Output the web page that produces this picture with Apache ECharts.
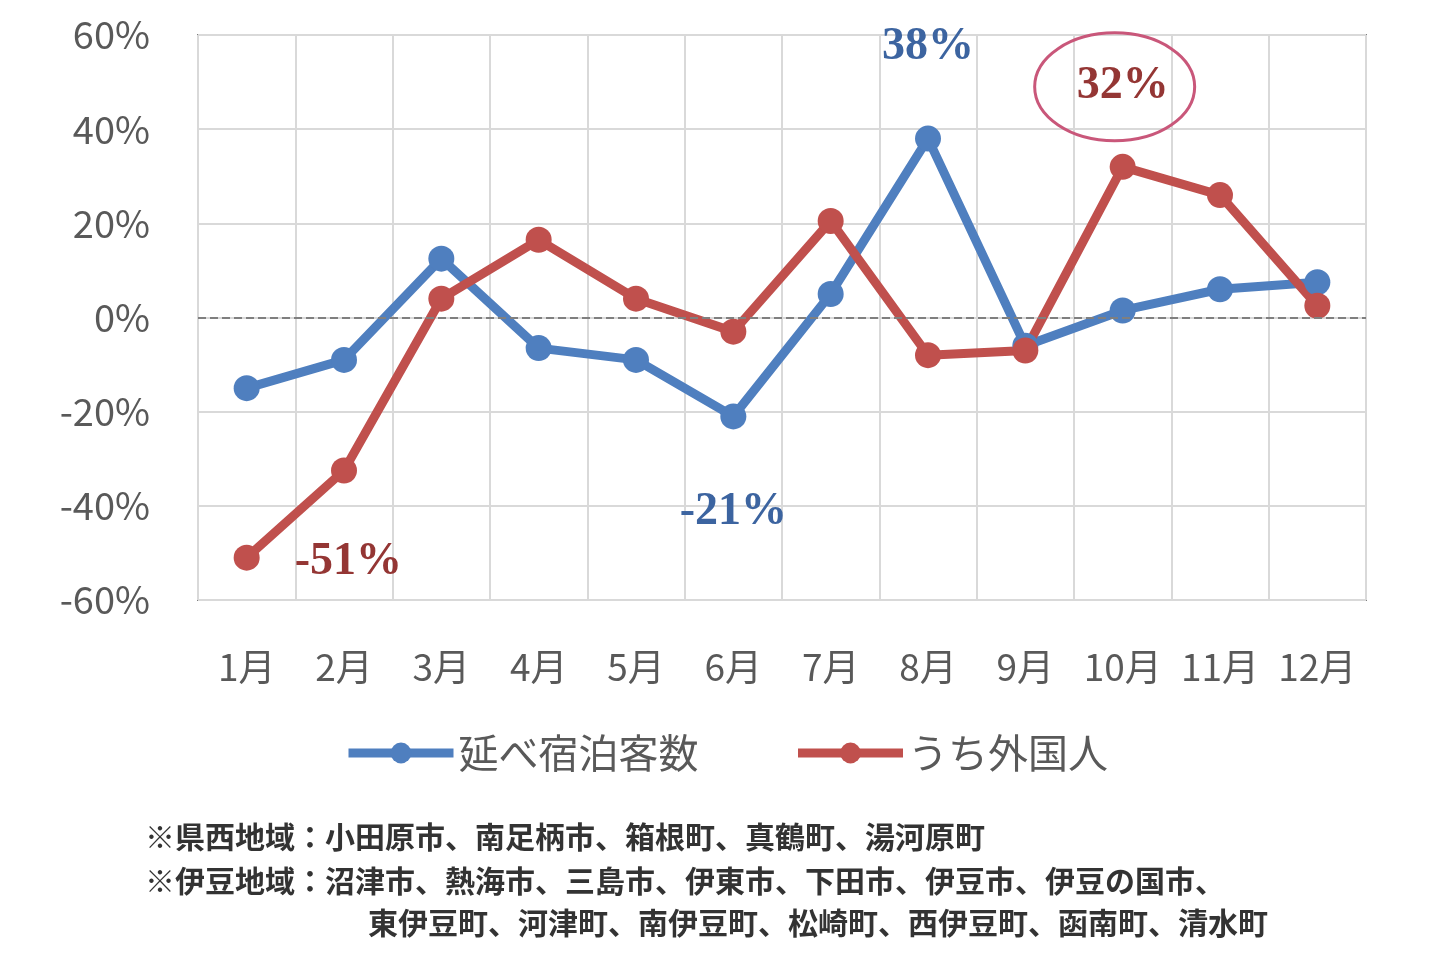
<!DOCTYPE html><html><head><meta charset="utf-8"><script src="https://cdn.jsdelivr.net/npm/echarts@6/dist/echarts.min.js"></script>
<style>html,body{margin:0;background:#fff}#c{width:1452px;height:966px}</style></head><body><div id="c"></div><script>
const months=['1月','2月','3月','4月','5月','6月','7月','8月','9月','10月','11月','12月'];
const total=[-15,-9,12.5,-6.5,-9,-21,5,38,-6,1.5,6,7.5];
const foreign=[-51,-32.5,4,16.5,4,-3,20.5,-8,-7,32,26,2.5];
const yTicks=[-60,-40,-20,0,20,40,60];
const notes=['※県西地域：小田原市、南足柄市、箱根町、真鶴町、湯河原町','※伊豆地域：沼津市、熱海市、三島市、伊東市、下田市、伊豆市、伊豆の国市、','東伊豆町、河津町、南伊豆町、松崎町、西伊豆町、函南町、清水町'];
const F='"Noto Sans CJK JP","Noto Sans",sans-serif';
const lblS={show:true,fontFamily:'"Liberation Serif",serif',fontWeight:'bold',fontSize:46};
const tData=total.map((v,i)=>i===7?{value:v,label:{...lblS,position:'top',distance:55,color:'#3c64a0',formatter:'38%'}}:i===5?{value:v,label:{...lblS,position:'bottom',distance:60,color:'#3c64a0',formatter:'-21%'}}:v);
const fData=foreign.map((v,i)=>i===0?{value:v,label:{...lblS,position:'right',distance:35,offset:[0,4],color:'#943634',formatter:'-51%'}}:i===9?{value:v,label:{...lblS,position:'top',distance:45,color:'#943634',formatter:'32%'}}:v);
const noteStyle=t=>({text:t,fontSize:30,fontWeight:'bold',fontFamily:F,fill:'#333'});
const chart=echarts.init(document.getElementById('c'));
chart.setOption({animation:false,
grid:{left:198,right:86,top:35,bottom:366,show:true,borderColor:'#7f7f7f',borderWidth:2},
xAxis:{type:'category',data:months,boundaryGap:true,axisTick:{show:false},axisLine:{show:false},
 axisLabel:{fontFamily:F,fontSize:37,color:'#595959',margin:48,interval:0},splitLine:{show:true,lineStyle:{color:'#d9d9d9',width:2}}},
yAxis:{type:'value',min:-60,max:60,interval:20,axisLine:{show:false},axisTick:{show:false},
 axisLabel:{fontFamily:F,fontSize:38,color:'#595959',margin:48,formatter:v=>v+'%'},splitLine:{lineStyle:{color:'#d9d9d9',width:2}}},
legend:{bottom:188,left:'center',itemWidth:105,itemHeight:26,itemGap:95,lineStyle:{width:9},textStyle:{fontFamily:F,fontSize:40,color:'#595959'}},
series:[
{name:'延べ宿泊客数',type:'line',data:tData,symbol:'circle',symbolSize:26,itemStyle:{color:'#4f7fbf'},lineStyle:{width:9,color:'#4f7fbf'},
 markLine:{silent:true,symbol:'none',label:{show:false},lineStyle:{type:'dashed',color:'#7f7f7f',width:2},data:[{yAxis:0}]}},
{name:'うち外国人',type:'line',data:fData,symbol:'circle',symbolSize:26,itemStyle:{color:'#c0504d'},lineStyle:{width:9,color:'#c0504d'}}],
graphic:[
{type:'text',left:145,top:822,style:noteStyle(notes[0])},
{type:'text',left:145,top:866,style:noteStyle(notes[1])},
{type:'text',left:368,top:908,style:noteStyle(notes[2])}]});
const p=chart.convertToPixel({seriesIndex:1},[9,32]);
chart.setOption({graphic:[{},{},{},{type:'ellipse',shape:{cx:p[0]-8,cy:p[1]-80,rx:80,ry:54},style:{fill:'none',stroke:'#c9577a',lineWidth:3},z:10}]});
</script></body></html>
